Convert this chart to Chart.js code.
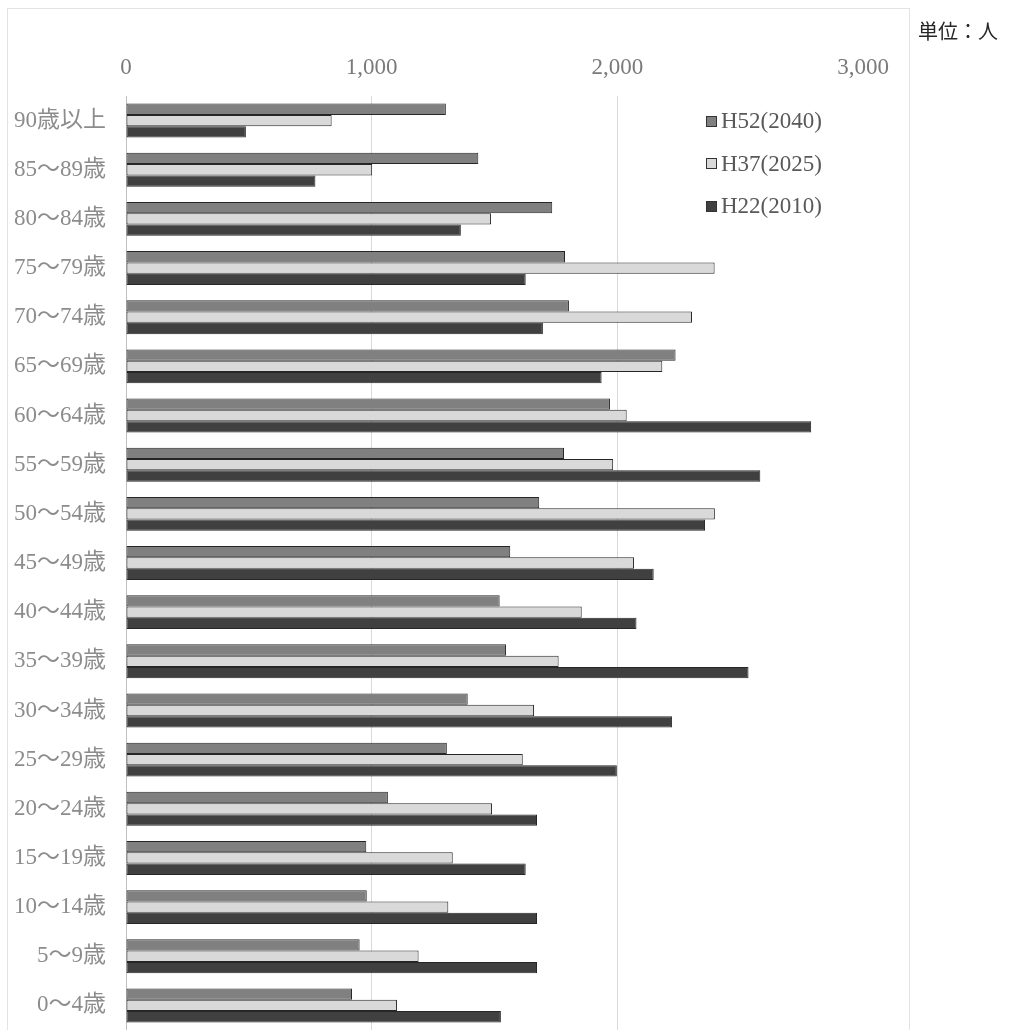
<!DOCTYPE html>
<html lang="ja">
<head>
<meta charset="utf-8">
<title>年齢階級別人口</title>
<script src="https://cdn.jsdelivr.net/npm/chart.js@4/dist/chart.umd.min.js"></script>
<style>
  html, body { margin: 0; padding: 0; background: #ffffff; }
  #wrap { position: relative; width: 1015px; height: 1030px; overflow: hidden; }
  #frame { position: absolute; left: 7px; top: 8px; width: 903px; height: 1100px; border: 1px solid #e3e3e3; box-sizing: border-box; }
  #chart { position: absolute; left: 0; top: 0; }
  #unit { position: absolute; left: 918px; top: 16px; font-family: "Noto Sans CJK JP", sans-serif; font-size: 20px; color: #262626; white-space: nowrap; }
  #legend { position: absolute; left: 706px; top: 106px; font-family: "Liberation Serif", "Noto Sans CJK JP", serif; font-size: 23px; color: #595959; }
  #legend .item { display: flex; align-items: center; height: 30px; margin-bottom: 12.5px; }
  #legend .box { width: 11px; height: 11px; box-sizing: border-box; border: 1px solid #333333; margin-right: 4px; }
</style>
</head>
<body>
<div id="wrap">
  <div id="frame"></div>
  <canvas id="chart" width="1015" height="1030"></canvas>
  <div id="legend"></div>
  <div id="unit">単位：人</div>
</div>
<script>
// Age groups, listed from the top row down
const ageGroups = [
  "90歳以上", "85～89歳", "80～84歳", "75～79歳", "70～74歳", "65～69歳",
  "60～64歳", "55～59歳", "50～54歳", "45～49歳", "40～44歳", "35～39歳",
  "30～34歳", "25～29歳", "20～24歳", "15～19歳", "10～14歳", "5～9歳", "0～4歳"
];

const seriesNames = ["H52(2040)", "H37(2025)", "H22(2010)"];

// Population (persons) per age group
const pop2040 = [1302, 1434, 1735, 1787, 1803, 2237, 1970, 1783, 1682, 1564, 1521, 1547, 1391, 1306, 1066, 978, 980, 951, 920];
const pop2025 = [837, 1002, 1486, 2396, 2304, 2183, 2038, 1983, 2397, 2068, 1855, 1761, 1661, 1615, 1490, 1330, 1312, 1191, 1103];
const pop2010 = [488, 771, 1363, 1627, 1697, 1936, 2789, 2582, 2357, 2148, 2078, 2534, 2223, 1998, 1673, 1627, 1673, 1673, 1526];

const axisTicks = [0, 1000, 2000, 3000];

const fills = ["#808080", "#d9d9d9", "#404040"];
const seriesValues = [pop2040, pop2025, pop2010];

const datasets = seriesNames.map((name, i) => ({
  label: name,
  data: seriesValues[i],
  backgroundColor: fills[i],
  borderColor: "#262626",
  borderWidth: 1,
  borderSkipped: false,
  barPercentage: 1.0,
  categoryPercentage: 0.69
}));

const tickFont = { family: "'Liberation Serif', 'Noto Sans CJK JP', serif", size: 23 };

const chart = new Chart(document.getElementById("chart"), {
  type: "bar",
  data: { labels: ageGroups, datasets: datasets },
  options: {
    indexAxis: "y",
    responsive: false,
    animation: false,
    layout: { padding: { left: 0, right: 152, top: 0, bottom: 0 } },
    plugins: {
      legend: { display: false },
      tooltip: { enabled: false }
    },
    scales: {
      x: {
        position: "top",
        min: axisTicks[0],
        max: axisTicks[axisTicks.length - 1],
        afterBuildTicks: (scale) => { scale.ticks = axisTicks.map(v => ({ value: v })); },
        afterFit: (scale) => { scale.height = 96; },
        ticks: {
          color: "#7a7a7a",
          font: tickFont,
          padding: 14,
          maxRotation: 0,
          callback: (v) => v.toLocaleString("en-US")
        },
        grid: {
          drawTicks: false,
          color: (ctx) => (ctx.tick && (ctx.tick.value === 0 || ctx.tick.value === 3000)) ? "rgba(0,0,0,0)" : "#d9d9d9",
          lineWidth: 1
        },
        border: { display: false }
      },
      y: {
        afterFit: (scale) => {
          scale.width = 126;
          scale.paddingTop = 0;
          scale.paddingBottom = 0;
        },
        ticks: {
          color: "#8c8c8c",
          font: tickFont,
          padding: 20
        },
        grid: { display: false, drawTicks: false },
        border: { display: true, color: "#bfbfbf", width: 1 }
      }
    }
  }
});

// Legend built from the chart's own datasets
const legendEl = document.getElementById("legend");
chart.data.datasets.forEach(ds => {
  const item = document.createElement("div");
  item.className = "item";
  const box = document.createElement("span");
  box.className = "box";
  box.style.background = ds.backgroundColor;
  const txt = document.createElement("span");
  txt.textContent = ds.label;
  item.appendChild(box);
  item.appendChild(txt);
  legendEl.appendChild(item);
});
</script>
</body>
</html>
